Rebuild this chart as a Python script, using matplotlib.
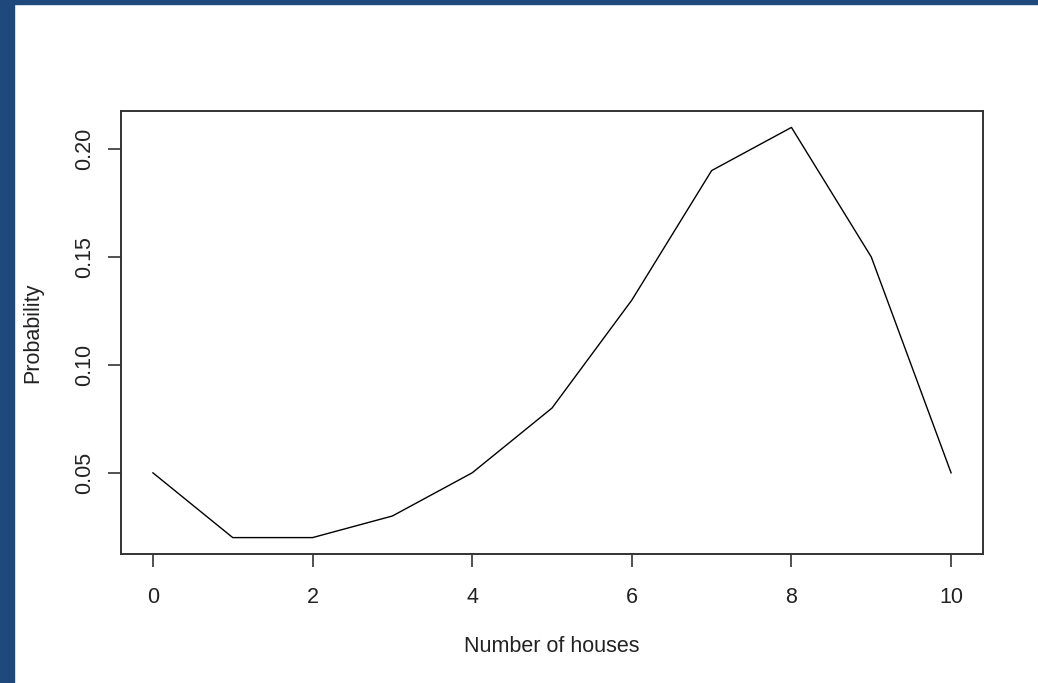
import matplotlib
matplotlib.use("Agg")
import matplotlib.pyplot as plt
from matplotlib.patches import Rectangle

houses = [0, 1, 2, 3, 4, 5, 6, 7, 8, 9, 10]
probability = [0.05, 0.02, 0.02, 0.03, 0.05, 0.08, 0.13, 0.19, 0.21, 0.15, 0.05]
x_ticks = [0, 2, 4, 6, 8, 10]
y_ticks = [0.05, 0.10, 0.15, 0.20]
y_tick_labels = ["0.05", "0.10", "0.15", "0.20"]

plt.rcParams['font.family'] = ['Liberation Sans', 'DejaVu Sans']

W, H = 1038, 683
fig = plt.figure(figsize=(W / 100, H / 100), dpi=100)
fig.patch.set_facecolor('white')

# blue frame strips
border = '#1f497d'
fig.patches.append(Rectangle((0, 0), 14 / W, 1, transform=fig.transFigure, color=border, zorder=0))
fig.patches.append(Rectangle((0, 1 - 4 / H), 1, 4 / H, transform=fig.transFigure, color=border, zorder=0))

left, right, top, bottom = 121, 983, 111, 554
ax = fig.add_axes([left / W, 1 - bottom / H, (right - left) / W, (bottom - top) / H])

ax.plot(houses, probability, color='black', linewidth=1.0)

ymin, ymax = min(probability), max(probability)
yr = ymax - ymin
ax.set_ylim(ymin - 0.04 * yr, ymax + 0.04 * yr)
xr = max(houses) - min(houses)
ax.set_xlim(min(houses) - 0.04 * xr, max(houses) + 0.04 * xr)

fs = 15.5
ax.set_xticks(x_ticks)
ax.set_xticklabels([str(t) for t in x_ticks], fontsize=fs)
ax.set_yticks(y_ticks)
ax.set_yticklabels(y_tick_labels, fontsize=fs, rotation=90, va='center')

ax.tick_params(axis='both', length=9.5, width=1.2, color='#333333', labelcolor='#222222')
ax.tick_params(axis='x', pad=14)
ax.tick_params(axis='y', pad=9)

for s in ax.spines.values():
    s.set_linewidth(1.4)
    s.set_color('#333333')

ax.set_xlabel("Number of houses", fontsize=fs, color='#222222', va='center')
ax.xaxis.set_label_coords(0.5, (bottom - 647) / (bottom - top))
ax.set_ylabel("Probability", fontsize=fs, color='#222222', va='center', ha='center')
ax.yaxis.set_label_coords((33 - left) / (right - left), 0.5)

fig.savefig("out.png", dpi=100)
